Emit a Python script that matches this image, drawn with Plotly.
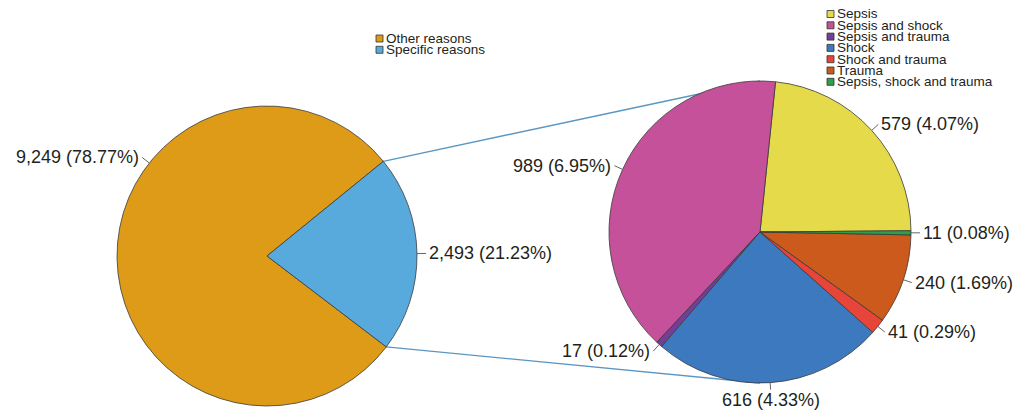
import math
import plotly.graph_objects as go

W, H = 1016, 412

# ---------------- data ----------------
outer_labels = ["Other reasons", "Specific reasons"]
outer_values = [9249, 2493]
outer_pct = ["78.77%", "21.23%"]
outer_colors = ["#DD9B18", "#58AADC"]

inner_labels = ["Sepsis", "Sepsis and shock", "Sepsis and trauma", "Shock",
                "Shock and trauma", "Trauma", "Sepsis, shock and trauma"]
inner_values = [579, 989, 17, 616, 41, 240, 11]
inner_pct = ["4.07%", "6.95%", "0.12%", "4.33%", "0.29%", "1.69%", "0.08%"]
inner_colors = ["#E4DA4A", "#C5519B", "#743D96", "#3C79BF", "#E7443A", "#CB5A1C", "#2F9E48"]

# ---------------- layout / style ----------------
FONT = "Liberation Sans, Arial, Helvetica, sans-serif"
TXT = "#231F20"
EDGE = "#3a3a3a"
LINK = "#5A96C3"

L = dict(cx=267, cy=256, r=150, rot=127.3, direction="clockwise")
R = dict(cx=760, cy=232, r=151, rot=5.9, direction="counterclockwise")
label_angle_override = {"Other reasons": 308.3}


def px2paper(x, y):
    return x / W, 1 - y / H


def domain(g):
    return dict(x=[(g["cx"] - g["r"]) / W, (g["cx"] + g["r"]) / W],
                y=[1 - (g["cy"] + g["r"]) / H, 1 - (g["cy"] - g["r"]) / H])


def slice_angles(values, g):
    """Return (start, end) angles (deg, clockwise from 12 o'clock) per slice,
    mirroring plotly's pie layout."""
    tot = float(sum(values))
    out = []
    if g["direction"] == "clockwise":
        cur = g["rot"]
        for v in values:
            a = 360.0 * v / tot
            out.append((cur, cur + a))
            cur += a
    else:
        cur = g["rot"] + 360.0 * values[0] / tot
        for v in values:
            a = 360.0 * v / tot
            out.append((cur - a, cur))
            cur -= a
    return out


def pt(g, theta, rr=None):
    rr = g["r"] if rr is None else rr
    t = math.radians(theta)
    return g["cx"] + rr * math.sin(t), g["cy"] - rr * math.cos(t)


fig = go.Figure()
for labels, values, colors, g in [(outer_labels, outer_values, outer_colors, L),
                                  (inner_labels, inner_values, inner_colors, R)]:
    fig.add_trace(go.Pie(
        labels=labels, values=values, sort=False,
        direction=g["direction"], rotation=g["rot"],
        marker=dict(colors=colors, line=dict(color=EDGE, width=0.8)),
        textinfo="none", hoverinfo="label+value+percent",
        domain=domain(g), showlegend=False,
    ))

shapes = []
annotations = []

# connector lines between the "Specific reasons" slice and the detail pie
outer_ang = slice_angles(outer_values, L)
spec_start, spec_end = outer_ang[1]
for theta_l, theta_r in [(spec_start, 0.0), (spec_end, 180.0)]:
    x0, y0 = pt(L, theta_l)
    x1, y1 = pt(R, theta_r)
    (a0, b0), (a1, b1) = px2paper(x0, y0), px2paper(x1, y1)
    shapes.append(dict(type="line", xref="paper", yref="paper", x0=a0, y0=b0, x1=a1, y1=b1,
                       line=dict(color=LINK, width=1.4), layer="below"))


def add_labels(labels, values, pcts, g):
    angs = slice_angles(values, g)
    for lab, v, p, (a0, a1) in zip(labels, values, pcts, angs):
        theta = label_angle_override.get(lab, (a0 + a1) / 2.0)
        p0 = pt(g, theta)
        s = math.sin(math.radians(theta))
        c = -math.cos(math.radians(theta))
        tick = 9 if abs(s) > 0.25 else 7
        p1 = pt(g, theta, g["r"] + tick)
        (sx0, sy0), (sx1, sy1) = px2paper(*p0), px2paper(*p1)
        shapes.append(dict(type="line", xref="paper", yref="paper", x0=sx0, y0=sy0, x1=sx1, y1=sy1,
                           line=dict(color="#555555", width=0.9)))
        tx, ty = p1
        if s > 0.25:
            xa, ya = "left", "middle"
            tx += 2
        elif s < -0.25:
            xa, ya = "right", "middle"
            tx -= 2
        else:
            xa = "center"
            if c > 0:
                ya = "top"
                ty -= 1
            else:
                ya = "bottom"
                ty += 1
        ax_, ay_ = px2paper(tx, ty)
        annotations.append(dict(x=ax_, y=ay_, xref="paper", yref="paper",
                                text=f"{v:,} ({p})", showarrow=False,
                                xanchor=xa, yanchor=ya, borderpad=0,
                                font=dict(family=FONT, size=18, color=TXT)))


add_labels(outer_labels, outer_values, outer_pct, L)
add_labels(inner_labels, inner_values, inner_pct, R)


def add_legend(labels, colors, x_sq, y_first, step=11.3, sq=7, fs=13.5):
    for i, (lab, col) in enumerate(zip(labels, colors)):
        yc = y_first + i * step
        x0, y0 = px2paper(x_sq, yc - sq / 2)
        x1, y1 = px2paper(x_sq + sq, yc + sq / 2)
        shapes.append(dict(type="rect", xref="paper", yref="paper", x0=x0, y0=y0, x1=x1, y1=y1,
                           fillcolor=col, line=dict(color="#333333", width=0.8)))
        tx, ty = px2paper(x_sq + sq + 2, yc)
        annotations.append(dict(x=tx, y=ty, xref="paper", yref="paper", text=lab,
                                showarrow=False, xanchor="left", yanchor="middle", borderpad=0,
                                font=dict(family=FONT, size=fs, color=TXT)))


add_legend(outer_labels, outer_colors, 376, 38.5)
add_legend(inner_labels, inner_colors, 827, 14.0)

fig.update_layout(
    width=W, height=H, margin=dict(l=0, r=0, t=0, b=0),
    paper_bgcolor="white", plot_bgcolor="white",
    showlegend=False, shapes=shapes, annotations=annotations,
    font=dict(family=FONT, color=TXT),
)

fig.write_html("out.html")
